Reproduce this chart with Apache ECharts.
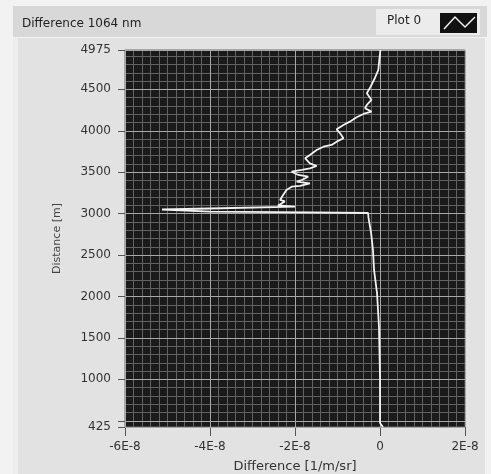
<!DOCTYPE html>
<html>
<head>
<meta charset="utf-8">
<script src="https://cdn.jsdelivr.net/npm/echarts@6/dist/echarts.min.js"></script>
<style>
    html, body { margin: 0; padding: 0; background: #f2f2f2; }
    #chart { width: 491px; height: 474px; }
</style>
</head>
<body>
<div id="chart"></div>
<script>
// distance [m] from bottom to top
let distance = [425, 473, 1029, 1632, 2042, 2320, 2561, 2767, 2948, 3008,
    3016, 3024, 3050, 3062, 3084, 3087, 3099, 3147, 3165, 3225,
    3286, 3325, 3334, 3366, 3386, 3406, 3446, 3467, 3506, 3527,
    3547, 3575, 3607, 3668, 3708, 3768, 3808, 3829, 3869, 3910,
    3970, 4018, 4070, 4110, 4163, 4203, 4231, 4272, 4312, 4372,
    4453, 4533, 4637, 4734, 4855, 4975]
// difference [1/m/sr]
let difference = [0.07e-8, 0, 0, -0.024e-8, -0.07e-8, -0.14e-8, -0.165e-8, -0.21e-8, -0.27e-8, -0.28e-8,
    -1.61e-8, -4.0e-8, -5.13e-8, -4.0e-8, -2.0e-8, -1.98e-8, -2.4e-8, -2.24e-8, -2.35e-8, -2.28e-8,
    -2.2e-8, -2.08e-8, -1.88e-8, -1.65e-8, -1.96e-8, -1.84e-8, -1.69e-8, -1.92e-8, -2.08e-8, -1.84e-8,
    -1.65e-8, -1.49e-8, -1.65e-8, -1.76e-8, -1.65e-8, -1.49e-8, -1.33e-8, -1.14e-8, -1.02e-8, -0.86e-8,
    -0.94e-8, -1.02e-8, -0.86e-8, -0.71e-8, -0.55e-8, -0.39e-8, -0.2e-8, -0.35e-8, -0.31e-8, -0.2e-8,
    -0.31e-8, -0.22e-8, -0.12e-8, -0.04e-8, -0.016e-8, 0.01e-8]
// y tick labels
let yLabels = [425, 1000, 1500, 2000, 2500, 3000, 3500, 4000, 4500, 4975]
let yTicks = [425, 500, 1000, 1500, 2000, 2500, 3000, 3500, 4000, 4500, 4975]

let points = []
for (let i = 0; i < distance.length; i++) {
    points.push([difference[i], distance[i]])
}
// minor horizontal grid every 100 m
let yMinor = []
for (let v = 500; v < 4975; v += 100) {
    yMinor.push(v)
}

let labelFont = {
    fontFamily: 'DejaVu Sans',
    fontSize: 12,
    color: '#333'
}

let myChart = echarts.init(document.getElementById('chart'))
myChart.setOption({
    backgroundColor: '#f2f2f2',
    animation: false,
    grid: {
        left: 125,
        right: 26,
        top: 50,
        bottom: 47,
        outerBoundsMode: 'none',
        containLabel: false,
        show: true,
        backgroundColor: '#1a1a1a',
        borderColor: '#6a6a6a',
        borderWidth: 1
    },
    xAxis: {
        type: 'value',
        min: -6e-8,
        max: 2e-8,
        interval: 2e-8,
        name: 'Difference [1/m/sr]',
        nameLocation: 'middle',
        nameGap: 33,
        nameTextStyle: {
            fontFamily: 'DejaVu Sans',
            fontSize: 13,
            color: '#333'
        },
        axisLine: { show: false },
        axisTick: {
            show: true,
            length: 9,
            lineStyle: { color: '#555' }
        },
        axisLabel: Object.assign({
            margin: 14,
            formatter: function (v) {
                if (Math.abs(v) < 1e-12) return '0'
                return Math.round(v / 1e-8) + 'E-8'
            }
        }, labelFont),
        splitLine: {
            show: true,
            lineStyle: { color: '#a8a8a8', width: 1 }
        },
        minorTick: { show: false, splitNumber: 10 },
        minorSplitLine: {
            show: true,
            lineStyle: { color: '#626262', width: 1 }
        }
    },
    yAxis: [
        {
            // minor grid only
            type: 'value',
            position: 'left',
            min: 425,
            max: 4975,
            axisLine: { show: false },
            axisLabel: { show: false },
            axisTick: { show: false, customValues: yMinor },
            splitLine: {
                show: true,
                lineStyle: { color: '#626262', width: 1 }
            }
        },
        {
            type: 'value',
            position: 'left',
            min: 425,
            max: 4975,
            z: 1,
            name: 'Distance [m]',
            nameLocation: 'middle',
            nameGap: 62,
            nameTextStyle: {
                fontFamily: 'DejaVu Sans',
                fontSize: 11,
                color: '#444'
            },
            axisLine: { show: false },
            axisTick: {
                show: true,
                length: 7,
                customValues: yTicks,
                lineStyle: { color: '#555' }
            },
            axisLabel: Object.assign({
                margin: 14,
                customValues: yLabels,
                formatter: function (v) {
                    return String(v)
                }
            }, labelFont),
            splitLine: {
                show: true,
                lineStyle: { color: '#a8a8a8', width: 1 }
            }
        }
    ],
    series: [
        {
            name: 'Plot 0',
            type: 'line',
            yAxisIndex: 1,
            data: points,
            showSymbol: false,
            symbol: 'none',
            z: 5,
            lineStyle: { color: '#f2f2f2', width: 1.8 }
        }
    ],
    graphic: [
        // panel + header
        { type: 'rect', silent: true, z: -10, shape: { x: 13, y: 38, width: 472, height: 436 }, style: { fill: '#e2e2e2' } },
        { type: 'rect', silent: true, z: -9, shape: { x: 13, y: 38, width: 5, height: 436 }, style: { fill: '#ededed' } },
        { type: 'rect', silent: true, z: -9, shape: { x: 13, y: 6, width: 474, height: 31 }, style: { fill: '#d8d8d8' } },
        {
            type: 'text', silent: true, left: 22, top: 18,
            style: { text: 'Difference 1064 nm', fontFamily: 'DejaVu Sans', fontSize: 12, fill: '#222' }
        },
        // legend
        { type: 'rect', silent: true, z: -8, shape: { x: 376, y: 9, width: 104, height: 26 }, style: { fill: '#ececec' } },
        {
            type: 'text', silent: true, left: 387, top: 15,
            style: { text: 'Plot 0', fontFamily: 'DejaVu Sans', fontSize: 12, fill: '#222' }
        },
        { type: 'rect', silent: true, shape: { x: 440, y: 13, width: 37, height: 20 }, style: { fill: '#111' } },
        {
            type: 'polyline', silent: true,
            shape: { points: [[444, 29], [455, 17], [465, 27], [475, 17]] },
            style: { stroke: '#f0f0f0', lineWidth: 1.5, fill: null }
        }
    ]
})
</script>
</body>
</html>
